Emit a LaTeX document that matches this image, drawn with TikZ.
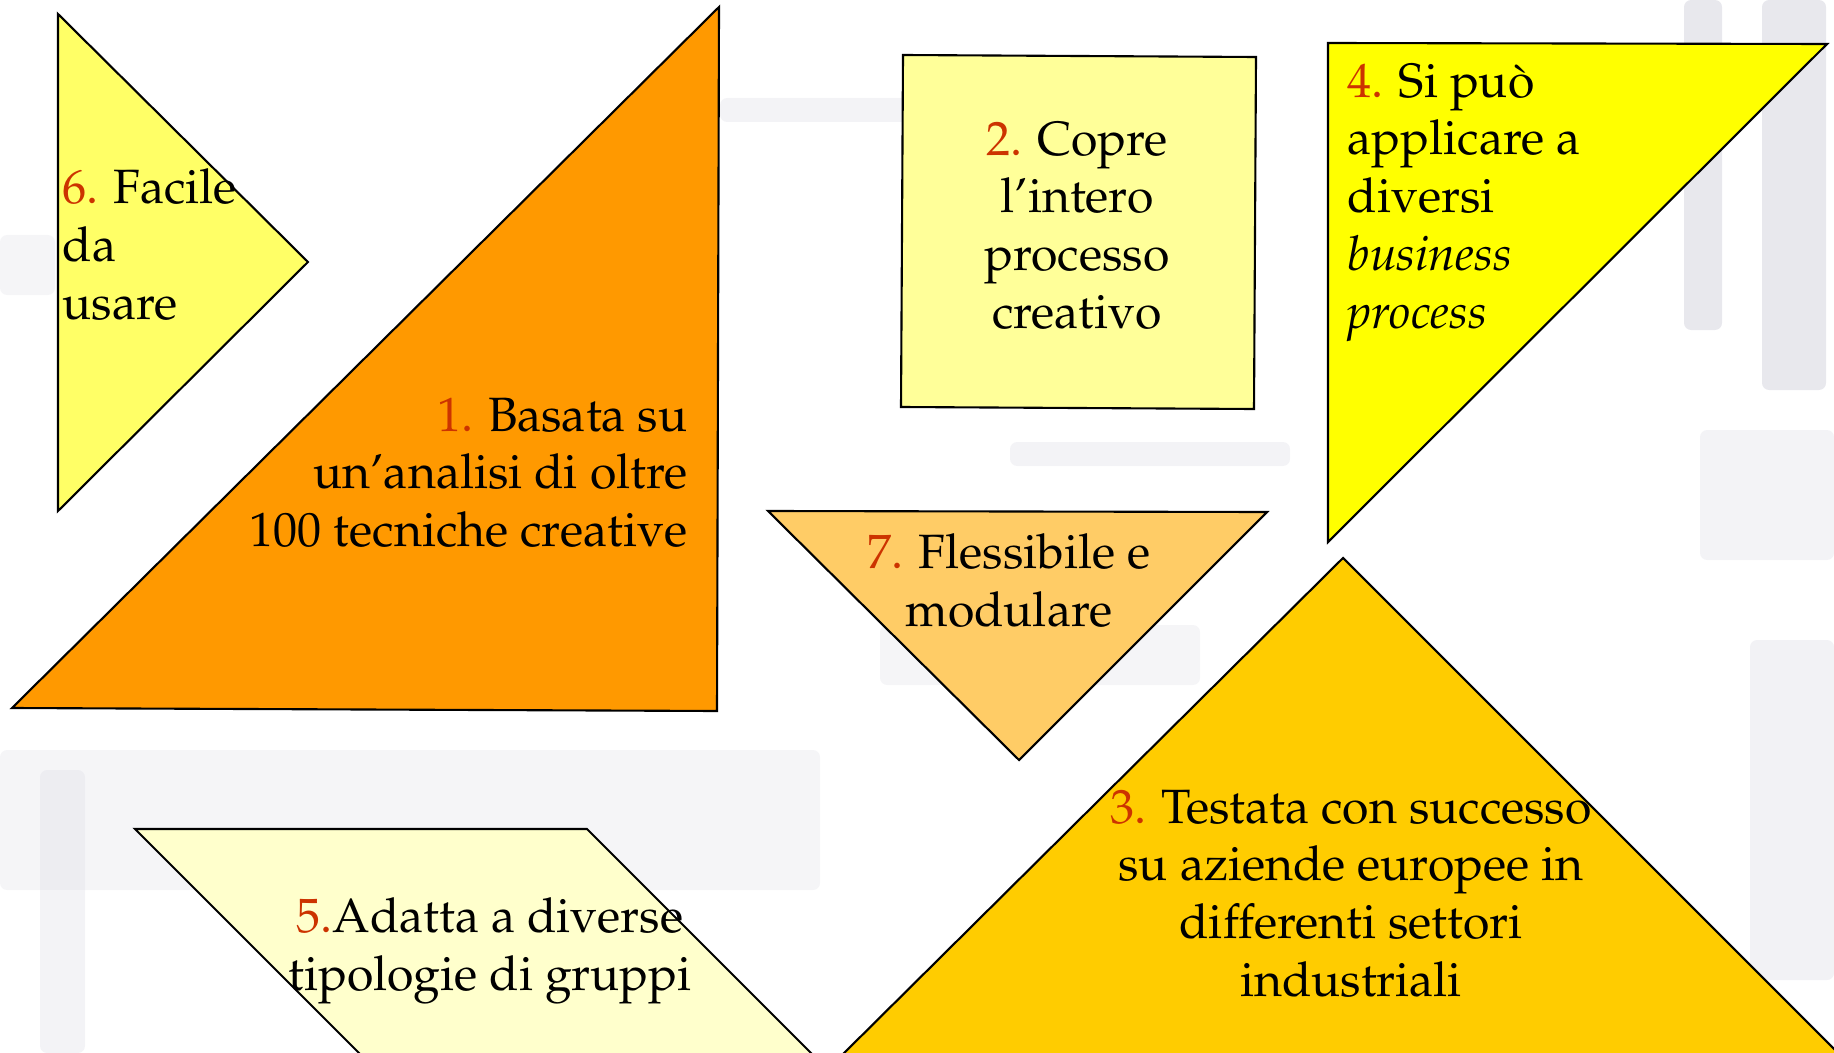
\documentclass[tikz,border=0pt]{standalone}
\usepackage[T1]{fontenc}
\usepackage{mathpazo}
\usetikzlibrary{positioning}

\definecolor{numred}{RGB}{204,51,0}
\definecolor{tanA}{RGB}{255,153,0}
\definecolor{tanB}{RGB}{255,255,153}
\definecolor{tanC}{RGB}{255,204,0}
\definecolor{tanD}{RGB}{255,255,0}
\definecolor{tanE}{RGB}{255,255,204}
\definecolor{tanF}{RGB}{255,255,102}
\definecolor{tanG}{RGB}{255,204,102}
\definecolor{smear}{RGB}{222,222,230}

\newcommand{\nr}[1]{\textcolor{numred}{#1}}

\begin{document}
\begin{tikzpicture} [x=0.1mm, y=-0.1mm,
                piece/.style = {draw=black, line width=0.6pt, line join=miter},
                tantext/.style = {inner sep=0pt, font=\fontsize{13.7}{16.45}\selectfont},
                bgsmear/.style = {fill=smear, draw=none, rounded corners=2pt}
            ]
            \useasboundingbox (0,0) rectangle (1834,1053);
            \clip (0,0) rectangle (1834,1053);
            % faded photo in the background
            \fill[bgsmear, opacity=.7] (1684,0) rectangle (1722,330);
            \fill[bgsmear, opacity=.7] (1762,0) rectangle (1826,390);
            \fill[bgsmear, opacity=.35] (1700,430) rectangle (1834,560);
            \fill[bgsmear, opacity=.4] (1750,640) rectangle (1834,980);
            \fill[bgsmear, opacity=.35] (720,98) rectangle (1100,122);
            \fill[bgsmear, opacity=.35] (1010,442) rectangle (1290,466);
            \fill[bgsmear, opacity=.3] (0,750) rectangle (820,890);
            \fill[bgsmear, opacity=.35] (40,770) rectangle (85,1053);
            \fill[bgsmear, opacity=.3] (0,235) rectangle (55,295);
            \fill[bgsmear, opacity=.3] (880,625) rectangle (1200,685);
            % tangram pieces
            \draw[piece, fill=tanF] (58,14) -- (308,262) -- (58,511) -- cycle;
            \draw[piece, fill=tanA] (12,708) -- (719,7) -- (717,711) -- cycle;
            \draw[piece, fill=tanB] (903,55) -- (1256,57) -- (1254,409) -- (901,407) -- cycle;
            \draw[piece, fill=tanD] (1328,43) -- (1827,44) -- (1328,542) -- cycle;
            \draw[piece, fill=tanG] (768,511) -- (1267,512) -- (1019,760) -- cycle;
            \draw[piece, fill=tanC] (1343,558) -- (1850,1065) -- (832,1065) -- cycle;
            \draw[piece, fill=tanE] (135,829) -- (587,829) -- (823,1065) -- (371,1065) -- cycle;
            % texts
            \node (t6) at (62,168) [tantext, anchor=north west, align=left] {\nr{6.} Facile\\da\\usare};
            \node (t1) at (688,397) [tantext, anchor=north east, align=right] {\nr{1.} Basata su\\un'analisi di oltre\\100 tecniche creative};
            \node (t2) at (1077,121) [tantext, anchor=north, align=center] {\nr{2.} Copre\\l'intero\\processo\\creativo};
            \node (t4) at (1347,63) [tantext, anchor=north west, align=left] {\nr{4.} Si pu\`o\\applicare a\\diversi\\\textit{business}\\\textit{process}};
            \node (t7) at (1009,533) [tantext, anchor=north, align=center] {\nr{7.} Flessibile e\\modulare};
            \node (t3) at (1351,789) [tantext, anchor=north, align=center] {\nr{3.} Testata con successo\\su aziende europee in\\differenti settori\\industriali};
            \node (t5) at (490,897) [tantext, anchor=north, align=center] {\nr{5.}Adatta a diverse\\tipologie di gruppi};
        \end{tikzpicture}
\end{document}
